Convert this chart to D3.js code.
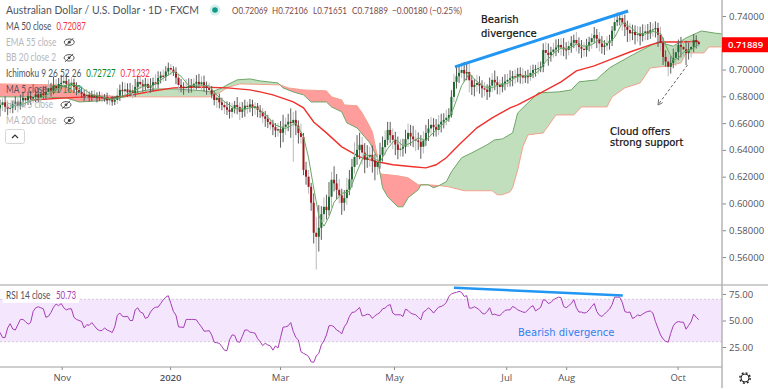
<!DOCTYPE html>
<html>
<head>
<meta charset="utf-8">
<script src="https://cdnjs.cloudflare.com/ajax/libs/d3/7.8.5/d3.min.js"></script>
<style>
  body { margin: 0; background: #fff; overflow: hidden; }
  text { font-family: "Open Sans", "Noto Sans", sans-serif; }
  .lg { font-family: Lato, "Open Sans", sans-serif; }
</style>
</head>
<body>
<div id="chart"></div>
<script>
"use strict";

// prices are in 1/10000 of a dollar, one entry per trading day
var firstOpen = 6710;
var closes = [
  6736,6755,6722,6708,6714,6742,6760,6731,6758,6788,
  6770,6801,6782,6796,6815,6790,6822,6810,6833,6861,
  6845,6878,6860,6892,6900,6915,6893,6885,6902,6870,
  6848,6833,6820,6803,6810,6795,6812,6790,6805,6796,
  6785,6792,6770,6781,6760,6773,6805,6848,6838,6852,
  6830,6845,6826,6870,6908,6890,6875,6893,6863,6880,
  6905,6890,6937,6955,6945,6985,7012,7000,6982,6940,
  6885,6870,6862,6870,6880,6868,6895,6908,6890,6905,
  6875,6862,6848,6815,6773,6790,6755,6736,6718,6700,
  6684,6712,6735,6721,6684,6702,6730,6721,6740,6712,
  6725,6699,6684,6650,6632,6609,6590,6570,6545,6555,
  6527,6572,6590,6610,6600,6624,6580,6527,6497,6251,
  6200,6124,6005,5781,5751,5818,5920,5975,5950,6050,
  6177,6150,6102,6060,6005,6040,6102,6180,6273,6348,
  6400,6438,6380,6326,6345,6363,6320,6273,6310,6363,
  6420,6475,6549,6510,6475,6440,6400,6410,6423,6480,
  6527,6500,6480,6470,6460,6423,6470,6527,6560,6587,
  6570,6549,6590,6610,6624,6640,6661,6796,6908,6950,
  6975,6997,6970,6982,6920,6870,6885,6900,6880,6860,
  6850,6833,6880,6923,6905,6885,6870,6895,6910,6923,
  6935,6950,6945,6967,6955,6940,6950,6945,6975,6997,
  7005,7010,7020,7146,7125,7109,7130,7150,7165,7184,
  7165,7150,7146,7175,7200,7221,7195,7170,7155,7146,
  7175,7205,7235,7258,7230,7195,7169,7180,7199,7215,
  7290,7355,7370,7385,7350,7320,7296,7270,7280,7258,
  7265,7250,7273,7285,7270,7295,7300,7310,7260,7199,
  7094,7060,7020,7050,7087,7130,7184,7170,7150,7124,
  7150,7169,7221,7206.9,7188.9
];
var wickUp = [
  40,30,45,35,30,25,40,30,55,40,
  50,35,40,60,35,50,40,55,45,60,
  40,70,50,45,60,40,55,35,40,30,
  35,25,40,30,45,25,30,35,25,30,
  30,25,35,30,20,25,55,40,60,50,
  45,55,40,60,45,50,35,45,40,55,
  35,60,50,30,45,40,40,30,25,35,
  30,45,35,60,55,50,40,50,60,45,
  50,35,40,30,25,40,30,35,30,45,
  55,40,30,60,35,55,45,30,40,35,
  30,25,35,30,40,30,25,35,30,45,
  60,90,50,60,100,60,70,40,70,30,
  60,50,30,70,120,170,60,70,90,110,
  60,100,70,80,50,60,90,70,60,110,
  110,90,60,70,90,60,70,50,60,90,
  80,70,60,60,50,60,60,70,60,70,
  70,60,80,70,60,50,70,60,70,60,
  50,60,70,60,50,60,50,50,60,70,
  50,55,60,70,60,40,45,60,50,40,
  45,40,60,50,70,45,40,50,55,45,
  60,40,50,45,50,55,40,50,55,40,
  30,45,40,50,60,70,40,50,60,45,
  50,70,55,40,50,40,60,45,50,50,
  55,40,35,60,45,50,55,40,50,45,
  35,40,55,30,40,60,45,50,55,50,
  60,55,65,50,55,60,45,50,40,60,
  40,50,60,50,70,50,40,60,50,65,
  50,60,45,35,4
];
var wickDown = [
  60,45,40,50,35,40,45,50,30,40,
  40,35,45,30,40,35,40,30,35,40,
  45,30,40,35,40,45,30,50,30,45,
  40,35,30,40,30,35,30,25,35,30,
  30,25,30,35,30,25,30,40,35,30,
  35,30,40,30,45,35,40,30,45,35,
  40,30,30,40,35,30,30,40,30,50,
  55,40,50,30,45,40,35,45,30,45,
  40,50,35,30,40,60,45,40,50,40,
  50,45,40,55,60,45,55,50,40,60,
  50,55,45,50,60,45,40,60,50,45,
  110,70,60,50,110,289,70,80,50,40,
  60,50,60,80,245,110,90,60,70,40,
  80,60,70,60,90,60,50,40,60,50,
  60,70,90,100,60,70,90,100,60,50,
  50,60,40,60,70,80,70,50,60,50,
  60,70,60,80,60,90,50,40,60,50,
  70,50,40,60,50,40,30,20,40,50,
  50,40,60,50,90,60,70,50,60,70,
  50,60,40,50,60,70,60,40,50,40,
  50,60,50,40,60,50,40,50,30,40,
  50,40,30,40,60,80,50,40,50,40,
  60,50,70,40,50,40,60,50,70,50,
  50,40,50,40,70,60,50,60,40,50,
  40,50,30,40,60,70,90,60,50,70,
  50,70,40,55,50,40,50,60,90,60,
  60,40,70,50,40,60,60,80,50,90,
  50,60,40,50,24
];

// ichimoku leading spans
var spanABars = [0,14,26,31,39,49,52,60,69,80,83,87,89,93,98,102,109,111,115,119,122,128,130,134,136,140,143,145,148,150,152,156,158,160,164,165,168,170,172,175,177,181,185,191,194,197,201,203,207,211,219,224,227,234,235,239,241,248,254,258,264,269,275,280,283];
var spanAValues = [6796,6796,6788,6758,6766,6796,6826,6855,6855,6841,6833,6863,6885,6923,6930,6915,6900,6863,6833,6811,6758,6758,6721,6684,6602,6564,6497,6453,6340,6117,6050,5975,5975,6042,6102,6139,6139,6117,6132,6162,6236,6341,6378,6438,6475,6482,6527,6676,6751,6826,6833,6848,6908,6923,6945,7012,7035,7109,7169,7206,7175,7236,7288,7273,7266];
var spanBBars = [0,24,27,30,35,49,63,82,86,89,94,110,113,119,128,130,134,135,140,142,144,146,148,149,156,160,164,168,173,176,182,193,195,197,200,201,203,205,207,213,218,225,228,238,240,245,251,255,262,267,269,276,278,283];
var spanBValues = [6893,6885,6863,6826,6811,6796,6796,6796,6826,6863,6893,6885,6863,6848,6841,6796,6773,6736,6729,6676,6609,6535,6348,6221,6206,6192,6139,6139,6132,6124,6095,6095,6065,6065,6087,6117,6251,6423,6512,6527,6661,6661,6721,6721,6796,6863,6900,7012,7027,7050,7124,7124,7169,7169];

var ma50Bars = [12,33,43,52,60,68,77,89,98,102,107,115,119,123,128,134,141,148,154,162,167,171,175,180,187,193,200,203,212,220,226,233,239,247,255,259,266,274];
var ma50Values = [6773,6796,6788,6811,6840,6863,6870,6863,6848,6833,6811,6758,6714,6609,6527,6423,6348,6311,6289,6274,6266,6289,6341,6438,6565,6639,6714,6736,6826,6908,6990,7027,7072,7131,7184,7206,7206,7209];

var ma5Bars = [4,8,12,16,20,24,28,32,36,40,44,48,52,56,60,64,68,71,74,78,82,85,88,92,96,100,104,108,112,116,119,121,123,125,127,129,131,134,137,140,143,146,149,152,155,158,161,164,167,170,173,176,178,181,184,187,190,193,196,199,202,205,208,211,214,217,220,223,226,229,232,235,238,241,244,247,250,253,256,259,262,264,266,268,271,274];
var ma5Values = [6728,6735,6765,6790,6826,6870,6895,6865,6812,6797,6775,6800,6838,6874,6880,6935,6985,6950,6880,6885,6878,6810,6760,6708,6705,6722,6665,6585,6560,6600,6500,6340,6115,5910,5830,5900,6010,6075,6090,6240,6370,6345,6310,6410,6480,6430,6450,6490,6470,6530,6580,6630,6720,6880,6970,6910,6870,6865,6890,6895,6940,6955,6955,6985,7060,7120,7160,7155,7190,7175,7185,7225,7190,7240,7350,7320,7270,7265,7285,7270,7140,7070,7085,7130,7150,7187];

// RSI 14, one entry per trading day
var rsi = [
  38.6,34,34,43,47,42,41,46,51,51,
  49,46.5,48,58.5,62,63,62,61,53,54,
  57.6,62.6,65.5,64,66,62,60,61,61,53,
  51,50,49,43,46,45.5,48,45,42,40.5,
  40.5,43,41,40,38.6,44,55,57,54,53.5,
  54,50,50,60,62,58,57,52,53,58,
  61,62.6,62.6,66,69.6,72,73.4,66,58.5,55,
  44,43.7,43.4,51,51,51,51,50.6,47,44,
  40,40,40.5,36.4,29.5,29,28.5,25.4,22,21.6,
  31.7,36.4,36,30,29.5,35,41,41,39,38.6,
  38,33,30,26.3,28.5,27,26,22,26,24,
  34,43.7,44,45,48,39.6,34,31.7,20.6,19,
  17.8,16,11,10.5,16.5,19,27,30.7,36.4,45,
  45.3,44,41,39.6,37.4,44,47.5,53.8,57.6,58,
  60,62.3,54.4,54.7,56,55.4,52,54.4,56,57.6,
  61,61.7,64,65,57,55.4,55.4,55.4,53.8,60.7,
  59.5,57,56,55.4,53,50.6,58,59.5,62,60,
  57,60,62.6,63.3,64.5,67,72.7,75,76,76.5,
  77.5,76.5,72.7,73.4,61.7,61.7,63,61.7,60,57,
  56,58.5,62,55.4,56,55,54.7,57,59.5,60,
  60,63.3,62,60,59,58,57.6,60,62.6,64,
  59,60.7,62.3,69.6,69,66,67,69.6,71,72,
  71.5,63.3,62,64,66,69.6,62,58,58,57,
  57.6,60,63.3,66,58.5,55,53.8,56,58.5,60.7,
  65,72,72,72,67,58.5,57.6,58,52,53,
  55.4,54.4,56,57.6,58.5,59,57,49,42.7,36.4,
  32.6,30.4,29.5,38,45,48,49,48.4,48.4,41.8,
  45.3,49,56,53,50.73
];

// 0.72 sits under the last price tag in the picture, so it is not listed
var priceTicks = [0.74,0.70,0.68,0.66,0.64,0.62,0.60,0.58,0.56];
var rsiTicks = [75,50,25];
var monthBars = [24.2,66.7,109.8,154.5,198.5,222,265.7];
var monthLabels = ["Nov","2020","Mar","May","Jul","Aug","Oct"];

var legendRows = [
  { parts: [["MA 50 close","#50535e"],["0.72087","#f23645"]], off: false },
  { parts: [["EMA 55 close","#b4b6bd"]], off: true },
  { parts: [["BB 20 close 2","#b4b6bd"]], off: true },
  { parts: [["Ichimoku 9 26 52 26","#50535e"],["0.72727","#0a8a1e"],["0.71232","#f23645"]], off: false },
  { parts: [["MA 5 close","#50535e"],["0.71873","#2e8b3c"]], off: false },
  { parts: [["HMA 5 close","#b4b6bd"]], off: true },
  { parts: [["MA 200 close","#b4b6bd"]], off: true }
];
var ohlc = ["O0.72069","H0.72106","L0.71651","C0.71889","\u22120.00180 (\u22120.25%)"];

var width = 768, height = 389;
var axisX = 722, paneSplit = 285, axisBottom = 367;

var svg = d3.select("#chart").append("svg")
  .attr("width", width)
  .attr("height", height)
  .style("display", "block");

var x = d3.scaleLinear().domain([0, 283.1]).range([0, axisX]);
var y = d3.scaleLinear().domain([5600, 7400]).range([257, 16]);
var rsiY = d3.scaleLinear().domain([25, 75]).range([347, 294]);

svg.append("clipPath").attr("id", "priceClip").append("rect")
  .attr("width", axisX).attr("height", paneSplit);
svg.append("clipPath").attr("id", "rsiClip").append("rect")
  .attr("y", paneSplit).attr("width", axisX).attr("height", axisBottom - paneSplit);

var price = svg.append("g").attr("clip-path", "url(#priceClip)");

/*
 * cloud: green where span A is above span B, pink the other way round.
 * Done with two clip paths so the crossings come out on their own.
 */
var spanA = spanABars.map(function(b, i) { return [b, spanAValues[i]]; });
var spanB = spanBBars.map(function(b, i) { return [b, spanBValues[i]]; });

var lineXY = d3.line()
  .x(function(d) { return x(d[0]); })
  .y(function(d) { return y(d[1]); });
var belowArea = d3.area()
  .x(function(d) { return x(d[0]); })
  .y0(paneSplit)
  .y1(function(d) { return y(d[1]); });
var aboveArea = d3.area()
  .x(function(d) { return x(d[0]); })
  .y0(0)
  .y1(function(d) { return y(d[1]); });

svg.append("clipPath").attr("id", "aboveB").append("path").attr("d", aboveArea(spanB));
svg.append("clipPath").attr("id", "aboveA").append("path").attr("d", aboveArea(spanA));

price.append("path")
  .attr("d", belowArea(spanA))
  .attr("clip-path", "url(#aboveB)")
  .attr("fill", "#c1dfbd");
price.append("path")
  .attr("d", belowArea(spanB))
  .attr("clip-path", "url(#aboveA)")
  .attr("fill", "#ff9c9c");
price.append("path")
  .attr("d", lineXY(spanB))
  .attr("fill", "none")
  .attr("stroke", "#f5a08e")
  .attr("stroke-width", 1);
price.append("path")
  .attr("d", lineXY(spanA))
  .attr("fill", "none")
  .attr("stroke", "#6fa768")
  .attr("stroke-width", 1);

// moving averages
price.append("path")
  .attr("d", lineXY(ma50Bars.map(function(b, i) { return [b, ma50Values[i]]; })))
  .attr("fill", "none")
  .attr("stroke", "#f0312c")
  .attr("stroke-width", 1.4);

// candles
var candles = price.selectAll(".candle")
  .data(closes)
  .enter()
  .append("g")
  .attr("class", "candle");

function openOf(i) { return i === 0 ? firstOpen : closes[i - 1]; }

candles.append("line")
  .attr("x1", function(d, i) { return x(i); })
  .attr("x2", function(d, i) { return x(i); })
  .attr("y1", function(d, i) { return y(Math.max(d, openOf(i)) + wickUp[i]); })
  .attr("y2", function(d, i) { return y(Math.min(d, openOf(i)) - wickDown[i]); })
  .attr("stroke", function(d, i) { return i % 3 === 1 ? "#b9b9b9" : "#5c5c5c"; })
  .attr("stroke-width", 1);

candles.append("rect")
  .attr("x", function(d, i) { return x(i) - 1; })
  .attr("width", 2)
  .attr("y", function(d, i) { return y(Math.max(d, openOf(i))); })
  .attr("height", function(d, i) { return Math.max(1, Math.abs(y(d) - y(openOf(i)))); })
  .attr("fill", function(d, i) { return d >= openOf(i) ? "#1a6a2c" : "#a3161d"; });

price.append("path")
  .attr("d", lineXY(ma5Bars.map(function(b, i) { return [b, ma5Values[i]]; })))
  .attr("fill", "none")
  .attr("stroke", "#6aa866")
  .attr("stroke-width", 1);

// drawn annotations on the price pane
price.append("line")
  .attr("x1", x(178.4)).attr("y1", y(7020))
  .attr("x2", x(246.3)).attr("y2", y(7437))
  .attr("stroke", "#2196f3")
  .attr("stroke-width", 3);

svg.append("defs").append("marker")
  .attr("id", "arrowHead")
  .attr("viewBox", "0 0 8 8")
  .attr("refX", 7).attr("refY", 4)
  .attr("markerWidth", 7).attr("markerHeight", 7)
  .attr("orient", "auto")
  .append("path")
  .attr("d", "M0,0L7,4L0,8")
  .attr("fill", "none")
  .attr("stroke", "#444");

price.append("line")
  .attr("x1", x(269.6)).attr("y1", y(7035))
  .attr("x2", x(258)).attr("y2", y(6736))
  .attr("stroke", "#444")
  .attr("stroke-width", 0.8)
  .attr("stroke-dasharray", "3,2")
  .attr("marker-end", "url(#arrowHead)");

var notes = [
  ["Bearish", 481, 23],
  ["divergence", 481, 37],
  ["Cloud offers", 610, 135],
  ["strong support", 610, 146]
];
svg.selectAll(".note")
  .data(notes)
  .enter()
  .append("text")
  .attr("class", "note")
  .attr("x", function(d) { return d[1]; })
  .attr("y", function(d) { return d[2]; })
  .attr("fill", "#111")
  .attr("stroke", "#111")
  .attr("stroke-width", 0.2)
  .style("font-family", "'DejaVu Sans'")
  .style("font-size", "10px")
  .text(function(d) { return d[0]; });

// rsi pane
var rsiPane = svg.append("g").attr("clip-path", "url(#rsiClip)");

rsiPane.append("rect")
  .attr("x", 0).attr("width", axisX)
  .attr("y", rsiY(70)).attr("height", rsiY(30) - rsiY(70))
  .attr("fill", "#f4e7fd");

[70, 30].forEach(function(level) {
  rsiPane.append("line")
    .attr("x1", 0).attr("x2", axisX)
    .attr("y1", rsiY(level)).attr("y2", rsiY(level))
    .attr("stroke", "#d8c8de")
    .attr("stroke-dasharray", "2,2");
});

rsiPane.append("path")
  .attr("d", d3.line()
    .x(function(d, i) { return x(i); })
    .y(function(d) { return rsiY(d); })(rsi))
  .attr("fill", "none")
  .attr("stroke", "#a63cb5")
  .attr("stroke-width", 1);

rsiPane.append("line")
  .attr("x1", x(178)).attr("y1", rsiY(81))
  .attr("x2", x(244.2)).attr("y2", rsiY(73.6))
  .attr("stroke", "#2196f3")
  .attr("stroke-width", 2.5);

svg.append("text")
  .attr("x", 518).attr("y", 336)
  .attr("fill", "#2f80ed")
  .style("font-family", "'DejaVu Sans'")
  .style("font-size", "10px")
  .text("Bearish divergence");

// axes
var priceAxis = d3.axisRight(y)
  .tickValues(priceTicks.map(function(p) { return p * 10000; }))
  .tickSize(4)
  .tickPadding(3)
  .tickFormat(function(d) { return d3.format(".5f")(d / 10000); });
var priceAxisG = svg.append("g")
  .attr("transform", "translate(" + axisX + ",0)")
  .call(priceAxis);

var rsiAxis = d3.axisRight(rsiY)
  .tickValues(rsiTicks)
  .tickSize(4)
  .tickPadding(3)
  .tickFormat(d3.format(".2f"));
var rsiAxisG = svg.append("g")
  .attr("transform", "translate(" + axisX + ",0)")
  .call(rsiAxis);

var timeAxis = d3.axisBottom(x)
  .tickValues(monthBars)
  .tickSize(3)
  .tickPadding(4)
  .tickFormat(function(d, i) { return monthLabels[i]; });
var timeAxisG = svg.append("g")
  .attr("transform", "translate(0," + axisBottom + ")")
  .call(timeAxis);

[priceAxisG, rsiAxisG, timeAxisG].forEach(function(g) {
  g.select(".domain").remove();
  g.selectAll(".tick line").attr("stroke", "#8a8a8a");
  g.selectAll(".tick text")
    .attr("fill", "#50535e")
    .style("font-size", "9.5px");
});
timeAxisG.selectAll(".tick text").filter(function(d, i) { return monthLabels[i] === "2020"; })
  .style("font-weight", "600");

svg.append("line").attr("x1", 0).attr("x2", axisX + 46).attr("y1", paneSplit).attr("y2", paneSplit)
  .attr("stroke", "#9e9e9e").attr("stroke-width", 1.2);
svg.append("line").attr("x1", 0).attr("x2", axisX).attr("y1", axisBottom).attr("y2", axisBottom)
  .attr("stroke", "#9e9e9e").attr("stroke-width", 1);
svg.append("line").attr("x1", axisX).attr("x2", axisX).attr("y1", 0).attr("y2", 388)
  .attr("stroke", "#b5b5b5").attr("stroke-width", 1.5);

// last price tag
svg.append("rect")
  .attr("x", axisX).attr("y", y(7189) - 7)
  .attr("width", 46).attr("height", 15)
  .attr("fill", "#ff0000");
svg.append("text")
  .attr("x", axisX + 6).attr("y", y(7189) + 4)
  .attr("fill", "#fff")
  .style("font-size", "9.5px")
  .style("font-weight", "600")
  .text(d3.format(".5f")(closes[closes.length - 1] / 10000));

// gear in the corner
var gear = svg.append("g").attr("transform", "translate(745,378)");
gear.append("circle").attr("r", 4).attr("fill", "none").attr("stroke", "#222").attr("stroke-width", 1);
gear.append("circle").attr("r", 5.2).attr("fill", "none").attr("stroke", "#222")
  .attr("stroke-width", 1.4).attr("stroke-dasharray", "2,2.08");

// squeeze a text sideways, the picture's labels are narrower than any font here
function squeeze(t, ratio) {
  var len = t.node().getComputedTextLength() * ratio;
  t.attr("textLength", len).attr("lengthAdjust", "spacingAndGlyphs");
  return len;
}

// header line
svg.append("text")
  .attr("class", "lg")
  .attr("x", 6).attr("y", 14)
  .attr("fill", "#50535e")
  .style("font-size", "11px")
  .attr("textLength", 193)
  .attr("lengthAdjust", "spacingAndGlyphs")
  .text("Australian Dollar / U.S. Dollar \u00b7 1D \u00b7 FXCM");

svg.append("circle").attr("cx", 215).attr("cy", 10).attr("r", 5.5).attr("fill", "#d5efec");
svg.append("circle").attr("cx", 215).attr("cy", 10).attr("r", 2.8).attr("fill", "#12998a");

var ohlcStarts = [232, 272, 313, 352, 392];
var ohlcWidths = [36, 36, 34, 36, 70];
svg.selectAll(".ohlc")
  .data(ohlc)
  .enter()
  .append("text")
  .attr("class", "ohlc lg")
  .attr("x", function(d, i) { return ohlcStarts[i]; })
  .attr("y", 14)
  .attr("fill", "#7c4a4a")
  .attr("textLength", function(d, i) { return ohlcWidths[i]; })
  .attr("lengthAdjust", "spacingAndGlyphs")
  .style("font-size", "10px")
  .text(function(d) { return d; });

// indicator legend, stacked under the header
var rowY = d3.scalePoint().domain(d3.range(legendRows.length)).range([30, 124]);

legendRows.forEach(function(row, r) {
  var cursor = 6;
  var rowG = svg.append("g");
  row.parts.forEach(function(part, p) {
    var t = rowG.append("text")
      .attr("class", "lg")
      .attr("x", cursor).attr("y", rowY(r))
      .attr("fill", part[1])
      .style("font-size", "10.5px")
      .text(part[0]);
    cursor += squeeze(t, p === 0 ? 0.79 : 0.75) + 5;
  });
  if (row.off) {
    var eye = rowG.append("g").attr("transform", "translate(" + (cursor + 8) + "," + (rowY(r) - 3.5) + ")");
    eye.append("ellipse").attr("rx", 5).attr("ry", 3.2).attr("fill", "none").attr("stroke", "#444").attr("stroke-width", 0.9);
    eye.append("circle").attr("r", 1.4).attr("fill", "#444");
    eye.append("line").attr("x1", -4).attr("y1", 4).attr("x2", 4).attr("y2", -4).attr("stroke", "#444").attr("stroke-width", 0.9);
  }
});

// collapse button
svg.append("rect")
  .attr("x", 5.5).attr("y", 129.5)
  .attr("width", 19).attr("height", 14).attr("rx", 2)
  .attr("fill", "#fff").attr("stroke", "#d6d6d6");
svg.append("path")
  .attr("d", "M12,138L15,135L18,138")
  .attr("fill", "none").attr("stroke", "#333").attr("stroke-width", 1.2);

// rsi legend with its white backing
svg.append("rect")
  .attr("x", 3).attr("y", 288)
  .attr("width", 76).attr("height", 15)
  .attr("fill", "#fff").attr("fill-opacity", 0.85);
squeeze(svg.append("text")
  .attr("class", "lg")
  .attr("x", 6).attr("y", 299)
  .attr("fill", "#50535e")
  .style("font-size", "10.5px")
  .text("RSI 14 close"), 0.79);
squeeze(svg.append("text")
  .attr("class", "lg")
  .attr("x", 56).attr("y", 299)
  .attr("fill", "#a63cb5")
  .style("font-size", "10.5px")
  .text("50.73"), 0.75);
</script>
</body>
</html>
